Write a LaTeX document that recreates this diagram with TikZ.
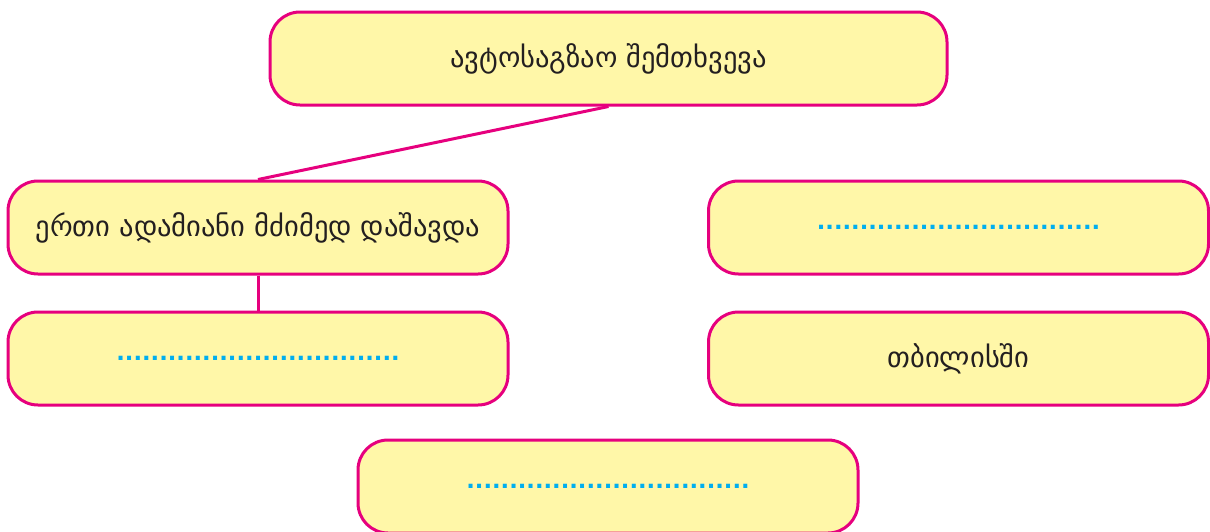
\documentclass[tikz,border=0pt]{standalone}
\usepackage{fontspec}
\setmainfont{DejaVu Sans}
\newfontfamily\dotsfont{DejaVu Sans Bold}
\definecolor{boxpink}{HTML}{E6007E}
\definecolor{boxfill}{HTML}{FFF7A8}
\definecolor{dotcyan}{HTML}{00AEEF}
\definecolor{inkgray}{HTML}{231F20}
\newcommand{\blankdots}{{\dotsfont\fontsize{22.6}{26}\selectfont\color{dotcyan}.................................}}

\begin{document}
\begin{tikzpicture}[x=1pt,y=-1pt,
  box/.style={draw=boxpink,fill=boxfill,line width=3pt,rounded corners=30pt,
    minimum width=500pt,minimum height=93pt,inner sep=0pt,
    font=\fontsize{28.5}{32}\selectfont,text=inkgray},
  link/.style={draw=boxpink,line width=3pt}]
  \useasboundingbox (0,0) rectangle (1210,531);
  \clip (0,0) rectangle (1210,531);

  % The event and what is known about it.
  \node[box,minimum width=677pt] (event) at (608.5,58.5) {ავტოსაგზაო შემთხვევა};
  \node[box] (injured) at (258,227.5) {ერთი ადამიანი მძიმედ დაშავდა};
  \node[box] (what) at (258,358.5) {\blankdots};
  \node[box] (when) at (958.5,227.5) {\blankdots};
  \node[box] (where) at (958.5,358.5) {თბილისში};
  \node[box] (why) at (608,486.5) {\blankdots};

  % Connectors.
  \draw[link] (event.south) -- (injured.north);
  \draw[link] (injured.south) -- (what.north);
\end{tikzpicture}
\end{document}
